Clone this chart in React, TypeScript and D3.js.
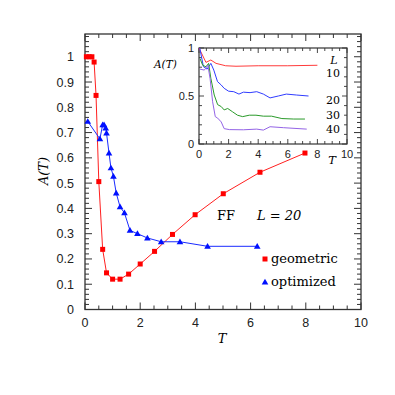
import React from "react";
import * as d3 from "d3";

// Main chart data
const geoT = [0.05, 0.15, 0.25, 0.33, 0.4, 0.5, 0.64, 0.78, 1.0, 1.27, 1.58, 2.0, 2.52, 3.17, 3.99, 5.01, 6.34, 7.97];
const geoA = [1.0, 1.0, 1.0, 0.979, 0.847, 0.506, 0.238, 0.145, 0.12, 0.12, 0.14, 0.18, 0.23, 0.297, 0.375, 0.458, 0.543, 0.619];

const optT = [0.1, 0.54, 0.64, 0.69, 0.75, 0.78, 0.87, 0.94, 1.03, 1.13, 1.27, 1.43, 1.63, 1.9, 2.26, 2.76, 3.44, 4.44, 6.24];
const optA = [0.744, 0.675, 0.731, 0.731, 0.718, 0.698, 0.619, 0.56, 0.527, 0.461, 0.406, 0.382, 0.313, 0.3, 0.283, 0.268, 0.268, 0.25, 0.25];

// Inset data (L = 10, 20, 30, 40)
const l10T = [0, 0.47, 0.8, 1.15, 1.8, 2.5, 4, 6, 8];
const l10A = [1.0, 0.85, 0.875, 0.84, 0.815, 0.81, 0.815, 0.815, 0.82];

const l20T = [0.05, 0.3, 0.55, 0.8, 1.0, 1.25, 1.5, 1.7, 2.0, 2.35, 2.7, 3.0, 3.45, 3.9, 4.35, 4.8, 5.36, 5.9, 6.6, 7.4];
const l20A = [1.0, 0.805, 0.78, 0.84, 0.77, 0.65, 0.615, 0.58, 0.55, 0.545, 0.52, 0.54, 0.535, 0.545, 0.52, 0.48, 0.5, 0.52, 0.51, 0.5];

const l30T = [0.07, 0.25, 0.47, 0.65, 0.8, 1.03, 1.26, 1.5, 1.7, 1.94, 2.27, 2.6, 2.95, 3.4, 3.85, 4.35, 4.9, 5.6, 6.4, 7.16];
const l30A = [0.89, 0.82, 0.805, 0.84, 0.685, 0.51, 0.41, 0.39, 0.355, 0.37, 0.335, 0.3, 0.285, 0.3, 0.3, 0.29, 0.29, 0.265, 0.26, 0.26];

const l40T = [0.07, 0.36, 0.6, 0.75, 0.92, 1.1, 1.26, 1.5, 1.7, 2.05, 3.0, 3.9, 4.35, 4.8, 5.7, 7.28];
const l40A = [0.78, 0.77, 0.82, 0.68, 0.44, 0.285, 0.27, 0.23, 0.16, 0.15, 0.148, 0.155, 0.145, 0.18, 0.17, 0.155];

const insetSeries = [
  { label: "10", T: l10T, A: l10A, color: "#ff3b3b" },
  { label: "20", T: l20T, A: l20A, color: "#2f3cff" },
  { label: "30", T: l30T, A: l30A, color: "#2a9a2a" },
  { label: "40", T: l40T, A: l40A, color: "#9464e6" },
];

const mainXTicks = [0, 2, 4, 6, 8, 10];
const mainYTicks = [0, 0.1, 0.2, 0.3, 0.4, 0.5, 0.6, 0.7, 0.8, 0.9, 1];
const insetXTicks = [0, 2, 4, 6, 8, 10];
const insetYTicks = [0, 0.5, 1];

const SANS = "'Liberation Sans', Arial, sans-serif";
const SERIF = "'DejaVu Serif', 'Liberation Serif', serif";
const AXIS = "#333";

export default function App() {
  const x = d3.scaleLinear().domain([0, 10]).range([85, 361]);
  const y = d3.scaleLinear().domain([0, 1.09]).range([309.5, 34]);
  const ix = d3.scaleLinear().domain([0, 10]).range([199, 347]);
  const iy = d3.scaleLinear().domain([0, 1]).range([144, 48]);

  const line = (xs: d3.ScaleLinear<number, number>, ys: d3.ScaleLinear<number, number>) =>
    d3
      .line<[number, number]>()
      .x((d) => xs(d[0]))
      .y((d) => ys(d[1]));

  const zip = (a: number[], b: number[]) => a.map((v, i) => [v, b[i]] as [number, number]);

  const [x0, x1] = x.range();
  const [y0, y1] = y.range();
  const [ix0, ix1] = ix.range();
  const [iy0, iy1] = iy.range();

  const xMinor = d3.range(0, 10.001, 0.5);
  const yMinor = d3.range(0, 1.081, 0.02);
  const ixMinor = d3.range(0, 10.001, 0.5);
  const iyMinor = d3.range(0, 1.001, 0.1);

  const tri = d3.symbol().type(d3.symbolTriangle).size(19)();

  return (
    <svg width={395} height={395} style={{ display: "block", position: "absolute", left: 0, top: 0 }}>
      <rect width={395} height={395} fill="#fff" />
      {/* Main frame */}
      <rect x={x0} y={y1} width={x1 - x0} height={y0 - y1} fill="none" stroke={AXIS} strokeWidth={1.3} />
      {xMinor.map((t, i) => {
        const major = Math.abs(t / 2 - Math.round(t / 2)) < 1e-6;
        const len = major ? 7 : 4;
        return (
          <g key={"xm" + i} stroke={AXIS} strokeWidth={1}>
            <line x1={x(t)} x2={x(t)} y1={y0} y2={y0 - len} />
            <line x1={x(t)} x2={x(t)} y1={y1} y2={y1 + len} />
          </g>
        );
      })}
      {yMinor.map((t, i) => {
        const major = Math.abs(t * 10 - Math.round(t * 10)) < 1e-6;
        const len = major ? 7 : 4;
        return (
          <g key={"ym" + i} stroke={AXIS} strokeWidth={1}>
            <line x1={x0} x2={x0 + len} y1={y(t)} y2={y(t)} />
            <line x1={x1} x2={x1 - len} y1={y(t)} y2={y(t)} />
          </g>
        );
      })}
      {mainXTicks.map((t) => (
        <text key={"xt" + t} x={x(t)} y={327} textAnchor="middle" fontFamily={SANS} fontSize={12.5} fill="#222">
          {t}
        </text>
      ))}
      {mainYTicks.map((t) => (
        <text key={"yt" + t} x={74} y={y(t) + 4.5} textAnchor="end" fontFamily={SANS} fontSize={12.5} fill="#222">
          {t}
        </text>
      ))}
      <text x={222} y={343} textAnchor="middle" fontFamily={SERIF} fontStyle="italic" fontSize={13}>
        T
      </text>
      <text
        transform={`translate(48,171) rotate(-90)`}
        textAnchor="middle"
        fontFamily={SERIF}
        fontStyle="italic"
        fontSize={13}
      >
        A(T)
      </text>

      {/* Main series */}
      <path d={line(x, y)(zip(geoT, geoA)) || ""} fill="none" stroke="#ff2020" strokeWidth={1} />
      <path d={line(x, y)(zip(optT, optA)) || ""} fill="none" stroke="#1a2bff" strokeWidth={1} />
      {geoT.map((t, i) => (
        <rect key={"g" + i} x={x(t) - 2.5} y={y(geoA[i]) - 2.5} width={5} height={5} fill="#ff0000" />
      ))}
      {optT.map((t, i) => (
        <path key={"o" + i} d={tri || ""} transform={`translate(${x(t)},${y(optA[i]) + 0.5})`} fill="#0010ff" />
      ))}

      {/* Annotations */}
      <text x={217} y={220} fontFamily={SERIF} fontSize={13}>
        FF
      </text>
      <text x={257} y={220} fontFamily={SERIF} fontStyle="italic" fontSize={13}>
        L = 20
      </text>
      {/* Legend */}
      <rect x={262.5} y={256.5} width={5} height={5} fill="#ff0000" />
      <text x={271} y={263} fontFamily={SERIF} fontSize={13}>
        geometric
      </text>
      <path d={tri || ""} transform={`translate(265,282.5)`} fill="#0010ff" />
      <text x={271} y={286} fontFamily={SERIF} fontSize={13}>
        optimized
      </text>

      {/* Inset */}
      <rect x={ix0} y={iy1} width={ix1 - ix0} height={iy0 - iy1} fill="#fff" stroke={AXIS} strokeWidth={1.2} />
      {ixMinor.map((t, i) => {
        const major = Math.abs(t / 2 - Math.round(t / 2)) < 1e-6;
        const len = major ? 5 : 3;
        return (
          <g key={"ixm" + i} stroke={AXIS} strokeWidth={0.9}>
            <line x1={ix(t)} x2={ix(t)} y1={iy0} y2={iy0 - len} />
            <line x1={ix(t)} x2={ix(t)} y1={iy1} y2={iy1 + len} />
          </g>
        );
      })}
      {iyMinor.map((t, i) => {
        const major = Math.abs(t * 2 - Math.round(t * 2)) < 1e-6;
        const len = major ? 5 : 3;
        return (
          <g key={"iym" + i} stroke={AXIS} strokeWidth={0.9}>
            <line x1={ix0} x2={ix0 + len} y1={iy(t)} y2={iy(t)} />
            <line x1={ix1} x2={ix1 - len} y1={iy(t)} y2={iy(t)} />
          </g>
        );
      })}
      {insetXTicks.map((t) => (
        <text key={"ixt" + t} x={ix(t)} y={158} textAnchor="middle" fontFamily={SANS} fontSize={11} fill="#222">
          {t}
        </text>
      ))}
      {insetYTicks.map((t) => (
        <text key={"iyt" + t} x={194} y={iy(t) + 4} textAnchor="end" fontFamily={SANS} fontSize={11} fill="#222">
          {t}
        </text>
      ))}
      <text x={154} y={68} fontFamily={SERIF} fontStyle="italic" fontSize={10.5}>
        A(T)
      </text>
      <text x={332} y={164} textAnchor="middle" fontFamily={SERIF} fontStyle="italic" fontSize={11.5}>
        T
      </text>
      {insetSeries.map((s) => (
        <path key={"is" + s.label} d={line(ix, iy)(zip(s.T, s.A)) || ""} fill="none" stroke={s.color} strokeWidth={1} />
      ))}
      <text x={334} y={64} textAnchor="middle" fontFamily={SERIF} fontStyle="italic" fontSize={11}>
        L
      </text>
      {insetSeries.map((s, i) => (
        <text
          key={"il" + s.label}
          x={340}
          y={[77, 104, 119, 133][i]}
          textAnchor="end"
          fontFamily={SERIF}
          fontSize={11}
        >
          {s.label}
        </text>
      ))}
    </svg>
  );
}
